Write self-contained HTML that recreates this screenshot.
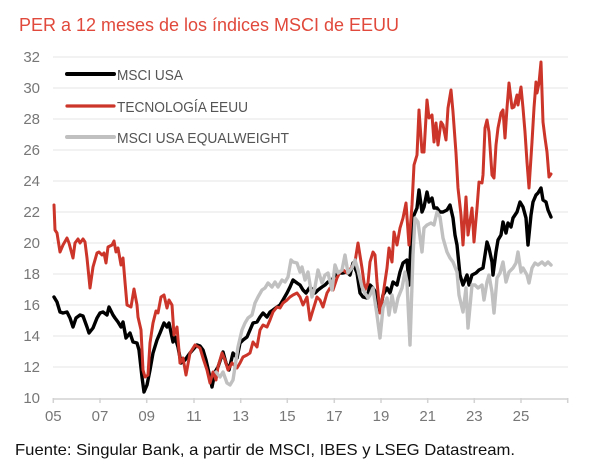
<!DOCTYPE html>
<html><head><meta charset="utf-8"><style>
html,body{margin:0;padding:0;background:#fff;}
svg{display:block;}
</style></head><body>
<svg width="600" height="476" viewBox="0 0 600 476" xmlns="http://www.w3.org/2000/svg" font-family="Liberation Sans, sans-serif">
<rect width="600" height="476" fill="#fff"/>
<text x="19" y="31" font-size="18.5" fill="#e0493b" textLength="380" lengthAdjust="spacingAndGlyphs">PER a 12 meses de los índices MSCI de EEUU</text>
<g stroke="#e6e6e6" stroke-width="1">
<line x1="53" y1="57" x2="568" y2="57"/><line x1="53" y1="88" x2="568" y2="88"/>
<line x1="53" y1="119" x2="568" y2="119"/><line x1="53" y1="150" x2="568" y2="150"/>
<line x1="53" y1="181" x2="568" y2="181"/><line x1="53" y1="212" x2="568" y2="212"/>
<line x1="53" y1="243" x2="568" y2="243"/><line x1="53" y1="274" x2="568" y2="274"/>
<line x1="53" y1="305" x2="568" y2="305"/><line x1="53" y1="336" x2="568" y2="336"/>
<line x1="53" y1="367" x2="568" y2="367"/>
</g>
<g stroke="#d2d2d2" stroke-width="1.5">
<line x1="53" y1="399" x2="568" y2="399"/>
<line x1="53.3" y1="398" x2="53.3" y2="403"/><line x1="100" y1="398" x2="100" y2="403"/>
<line x1="146.7" y1="398" x2="146.7" y2="403"/><line x1="194" y1="398" x2="194" y2="403"/>
<line x1="240.7" y1="398" x2="240.7" y2="403"/><line x1="287.3" y1="398" x2="287.3" y2="403"/>
<line x1="334.3" y1="398" x2="334.3" y2="403"/><line x1="381" y1="398" x2="381" y2="403"/>
<line x1="427.7" y1="398" x2="427.7" y2="403"/><line x1="474.3" y1="398" x2="474.3" y2="403"/>
<line x1="521" y1="398" x2="521" y2="403"/><line x1="567.7" y1="398" x2="567.7" y2="403"/>
</g>
<g font-size="15" fill="#777" text-anchor="end">
<text x="40" y="62">32</text><text x="40" y="93">30</text><text x="40" y="124">28</text>
<text x="40" y="155">26</text><text x="40" y="186">24</text><text x="40" y="217">22</text>
<text x="40" y="248">20</text><text x="40" y="279">18</text><text x="40" y="310">16</text>
<text x="40" y="341">14</text><text x="40" y="372">12</text><text x="40" y="403">10</text>
</g>
<g font-size="15" fill="#777" text-anchor="middle">
<text x="53.3" y="421">05</text><text x="100" y="421">07</text><text x="146.7" y="421">09</text>
<text x="194" y="421">11</text><text x="240.7" y="421">13</text><text x="287.3" y="421">15</text>
<text x="334.3" y="421">17</text><text x="381" y="421">19</text><text x="427.7" y="421">21</text>
<text x="474.3" y="421">23</text><text x="521" y="421">25</text>
</g>
<g fill="none" stroke-linejoin="round" stroke-linecap="round">
<polyline stroke="#000" stroke-width="3.4" points="54,297 57,302 60,312 63,313 67,312 70,318 73,327 76,318 80,315 83,316 87,327 89,333 93,328 97,318 100,313 103,312 107,315 109,307 113,315 115,318 118,322 121,327 123,322 126,338 130,333 133,342 137,343 139,350 142,377 144,392 147,385 150,370 153,353 157,340 160,333 164,323 167,327 169,323 173,342 175,337 178,347 181,363 185,360 190,353 197,345 200,346 203,350 206,360 209,373 212,387 215,372 218,367 223,352 226,363 229,370 233,353 237,358 240,343 243,340 247,337 250,330 253,323 257,322 260,317 263,313 267,317 270,312 273,310 277,307 280,305 283,300 287,293 290,287 293,280 297,283 300,285 303,290 306,293 310,287 315,293 318,290 322,287 325,285 328,282 332,280 335,275 340,273 343,273 347,272 350,275 353,263 357,273 360,293 363,297 367,298 370,285 373,288 377,295 380,312 383,295 387,288 390,293 393,282 397,285 400,272 403,263 407,260 409,285 412,218 414,215 417,208 419,190 422,212 424,207 427,192 429,202 432,198 434,208 437,208 440,212 443,212 447,210 450,205 453,218 455,235 457,245 460,275 463,285 467,275 469,285 472,275 476,273 479,270 483,268 485,255 487,242 489,248 492,262 493,275 496,252 498,240 501,235 503,222 506,233 508,223 511,227 513,218 517,212 520,202 523,207 526,218 528,245 531,215 533,202 536,195 538,193 541,188 543,200 546,202 548,210 551,217"/>
<polyline stroke="#cc3529" stroke-width="3" points="54,205 55,230 57,233 60,252 63,245 67,238 69,243 73,258 75,243 78,239 80,243 83,239 85,242 87,258 90,288 93,267 97,253 99,252 102,255 104,253 106,263 108,247 112,245 114,241 116,252 118,248 121,265 123,258 125,282 127,305 131,307 134,289 137,305 138,317 141,330 143,370 145,377 148,375 150,343 153,323 156,311 158,313 161,297 164,295 167,308 169,300 172,305 174,335 177,327 180,363 183,358 186,375 190,353 195,345 200,348 203,358 207,370 210,383 213,372 216,380 218,367 222,353 225,360 228,370 232,363 237,368 240,363 243,357 247,355 250,353 253,342 257,347 260,330 263,325 267,327 270,320 273,312 277,307 280,308 283,303 287,300 290,297 293,295 297,293 300,297 303,305 307,297 310,320 313,310 317,297 320,300 323,307 327,293 330,288 333,290 337,278 340,272 343,270 347,273 352,267 355,262 358,243 362,268 365,290 368,283 370,262 373,252 375,255 377,282 380,313 383,295 387,268 389,248 392,262 394,232 397,245 400,228 403,218 406,203 409,245 412,205 414,165 417,155 419,110 422,152 424,152 427,100 429,118 432,115 434,142 436,123 438,145 441,122 443,125 446,140 448,108 451,90 453,112 456,153 458,188 461,215 463,245 466,197 468,235 472,208 474,242 477,208 479,182 482,183 483,175 485,128 487,120 489,132 492,175 494,178 496,145 498,128 501,113 503,110 505,138 507,108 509,83 512,108 514,107 517,95 518,105 521,87 523,108 525,132 527,162 529,188 532,142 534,108 536,82 537,93 539,83 541,62 543,122 545,138 547,152 549,177 551,174"/>
<polyline stroke="#c0c0c0" stroke-width="3.4" points="216,372 220,377 223,372 227,383 230,385 233,380 235,367 238,347 242,330 245,323 248,318 252,315 255,303 258,297 262,290 265,288 268,283 272,287 275,282 278,287 282,280 285,282 288,277 291,260 293,262 297,263 300,272 302,267 305,280 308,272 312,297 315,287 318,270 322,283 325,275 328,273 332,290 335,265 338,273 342,270 345,255 348,273 352,268 355,260 358,270 362,287 365,293 368,298 370,295 373,288 377,315 380,338 383,308 387,298 389,315 392,295 395,312 398,298 402,288 405,272 407,282 410,345 413,255 415,218 418,222 422,252 424,228 427,225 431,223 434,225 437,212 440,217 443,238 447,252 450,258 453,262 457,272 459,295 463,312 466,288 468,328 472,285 475,285 478,288 482,285 484,300 487,282 489,275 492,292 494,313 497,278 500,273 503,262 506,282 509,272 513,268 516,263 518,252 521,272 523,268 527,275 529,283 532,268 535,263 538,265 542,262 545,265 548,262 551,265"/>
</g>
<line x1="67" y1="74" x2="114" y2="74" stroke="#000" stroke-width="4" stroke-linecap="round"/>
<line x1="67" y1="106" x2="114" y2="106" stroke="#cc3529" stroke-width="3.2" stroke-linecap="round"/>
<line x1="67" y1="137" x2="114" y2="137" stroke="#c0c0c0" stroke-width="4" stroke-linecap="round"/>
<g font-size="14.5" fill="#555">
<text x="117" y="80" textLength="66" lengthAdjust="spacingAndGlyphs">MSCI USA</text>
<text x="117" y="112" textLength="131" lengthAdjust="spacingAndGlyphs">TECNOLOGÍA EEUU</text>
<text x="117" y="143" textLength="172" lengthAdjust="spacingAndGlyphs">MSCI USA EQUALWEIGHT</text>
</g>
<text x="15" y="455" font-size="16" fill="#111" textLength="500" lengthAdjust="spacingAndGlyphs">Fuente: Singular Bank, a partir de MSCI, IBES y LSEG Datastream.</text>
</svg>
</body></html>
